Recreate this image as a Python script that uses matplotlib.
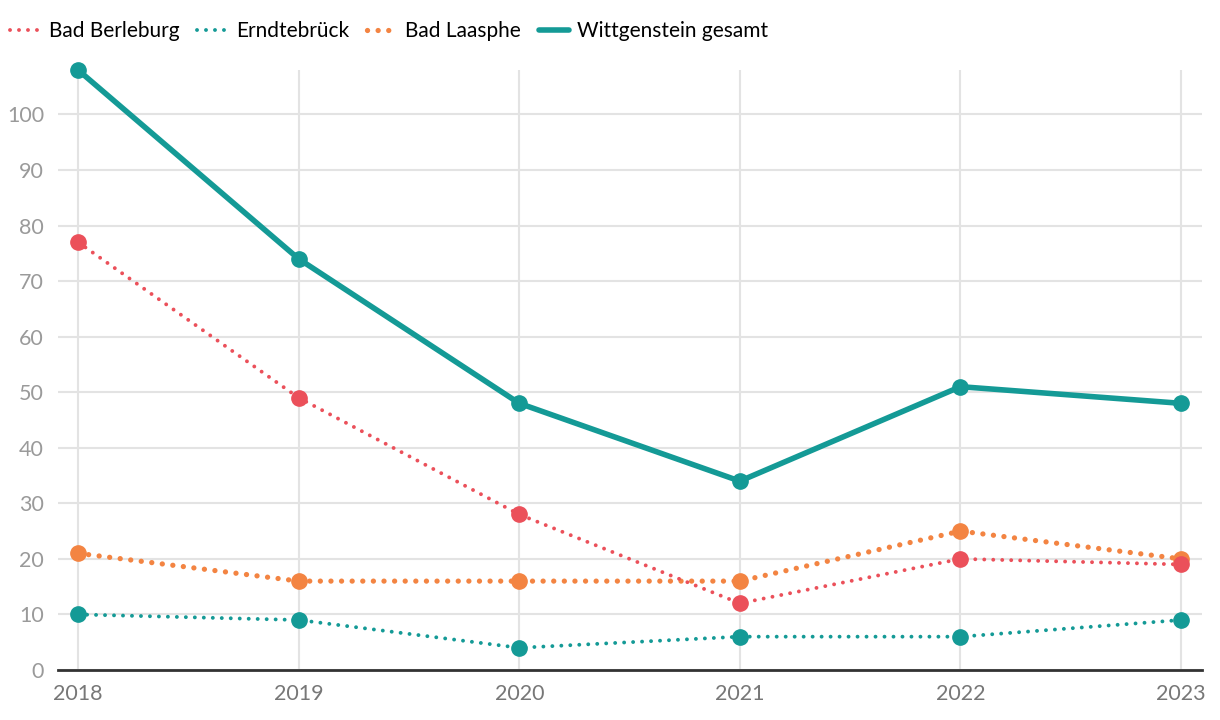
import matplotlib
matplotlib.use("Agg")
import matplotlib.pyplot as plt

# ---------- Daten ----------
years = [2018, 2019, 2020, 2021, 2022, 2023]
bad_berleburg = [77, 49, 28, 12, 20, 19]
erndtebrueck = [10, 9, 4, 6, 6, 9]
bad_laasphe = [21, 16, 16, 16, 25, 20]
wittgenstein = [108, 74, 48, 34, 51, 48]
y_ticks = [0, 10, 20, 30, 40, 50, 60, 70, 80, 90, 100]

RED = "#EB505A"
TEAL = "#149A96"
ORANGE = "#F38442"

plt.rcParams['font.family'] = ['Lato', 'DejaVu Sans']

fig = plt.figure(figsize=(12.2, 7.2), dpi=100)
ax = fig.add_axes([58 / 1220, 50 / 720, (1202 - 58) / 1220, 600 / 720])

# gepunktete Linien
l_laa, = ax.plot(years, bad_laasphe, color=ORANGE, lw=3.8,
                 linestyle=(0, (0.01, 2.0)), dash_capstyle='round',
                 marker='o', markersize=11, zorder=3, clip_on=False,
                 label="Bad Laasphe")
l_ber, = ax.plot(years, bad_berleburg, color=RED, lw=2.8,
                 linestyle=(0, (0.01, 2.3)), dash_capstyle='round',
                 marker='o', markersize=11, zorder=4, clip_on=False,
                 label="Bad Berleburg")
l_ern, = ax.plot(years, erndtebrueck, color=TEAL, lw=2.8,
                 linestyle=(0, (0.01, 2.3)), dash_capstyle='round',
                 marker='o', markersize=11, zorder=4, clip_on=False,
                 label="Erndtebrück")
l_wit, = ax.plot(years, wittgenstein, color=TEAL, lw=4.0,
                 solid_capstyle='round', solid_joinstyle='round',
                 marker='o', markersize=11, zorder=5, clip_on=False,
                 label="Wittgenstein gesamt")

ax.set_xlim(2017.909, 2023.095)
ax.set_ylim(0, 108)
ax.set_xticks(years)
ax.set_yticks(y_ticks)
ax.grid(True, color="#e3e3e3", lw=1.5, zorder=0)
ax.set_axisbelow(True)
for s in ["top", "right", "left"]:
    ax.spines[s].set_visible(False)
ax.spines["bottom"].set_color("#333333")
ax.spines["bottom"].set_linewidth(2)
ax.tick_params(axis="both", length=0)
ax.tick_params(axis="y", labelsize=15.5, labelcolor="#9a9a9a", pad=10)
ax.tick_params(axis="x", labelsize=15.5, labelcolor="#777777", pad=10)

fig.legend(handles=[l_ber, l_ern, l_laa, l_wit], loc="upper left",
           bbox_to_anchor=(2 / 1220, 1 - 13 / 720), ncol=4, frameon=False,
           fontsize=15, handlelength=1.45, handletextpad=0.4,
           columnspacing=0.85, borderaxespad=0, markerscale=0)

fig.savefig("out.png", dpi=100)
